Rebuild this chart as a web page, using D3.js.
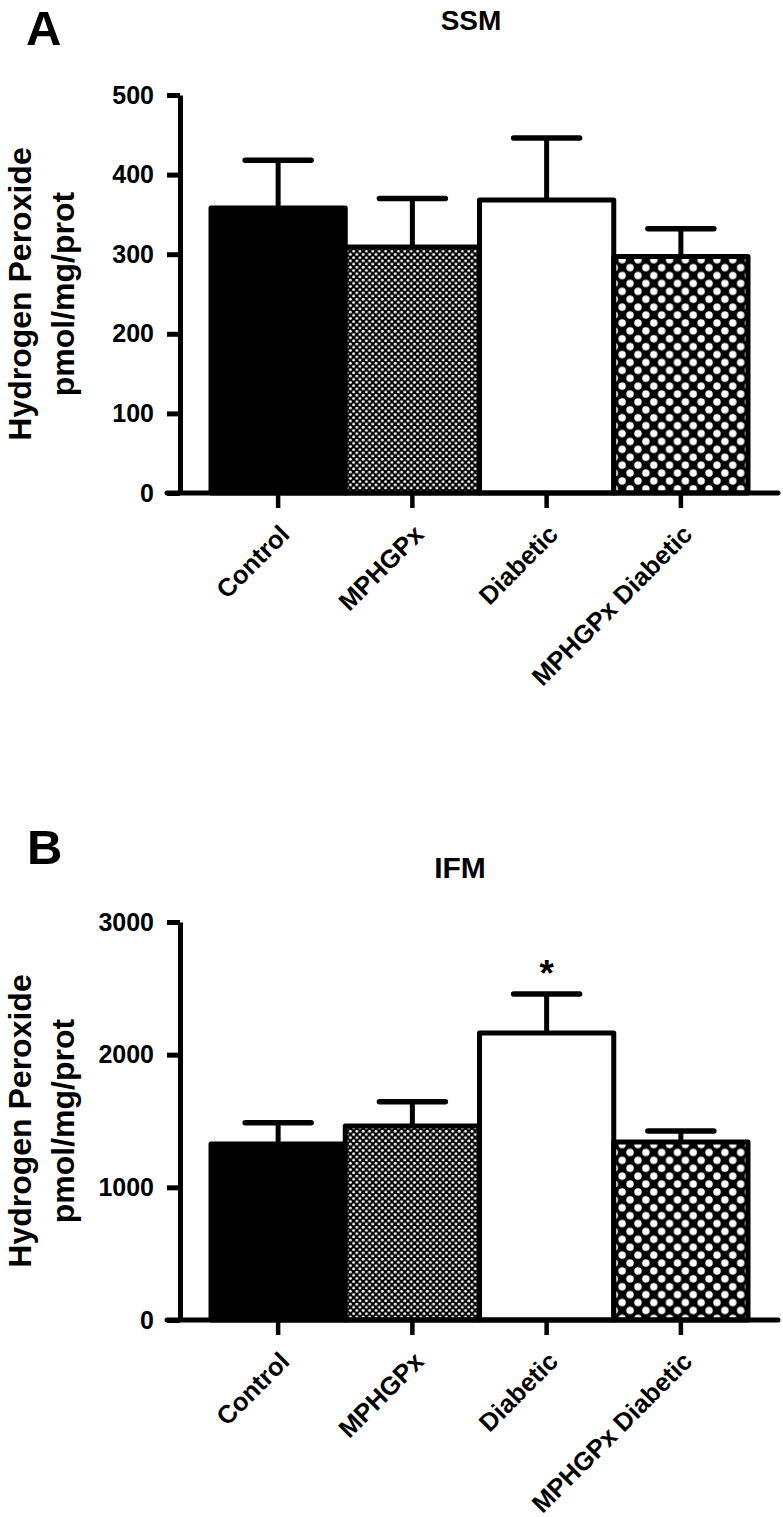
<!DOCTYPE html>
<html>
<head>
<meta charset="utf-8">
<script src="https://cdn.jsdelivr.net/npm/d3@7"></script>
<style>
  html, body { margin: 0; padding: 0; background: #fff; }
  svg { display: block; font-family: "Liberation Sans", Arial, sans-serif; }
</style>
</head>
<body>
<svg id="chart" width="783" height="1517"></svg>
<script>
// Data
const categories = ["Control", "MPHGPx", "Diabetic", "MPHGPx Diabetic"];
const ssmMeans = [358, 309, 368, 297];
const ssmErrors = [60, 61, 78, 35];
const ssmTicks = [0, 100, 200, 300, 400, 500];
const ifmMeans = [1326, 1462, 2163, 1341];
const ifmErrors = [161, 183, 294, 83];
const ifmTicks = [0, 1000, 2000, 3000];
const ifmStars = ["", "", "*", ""];

const svg = d3.select("#chart");
const defs = svg.append("defs");

// fine dotted pattern (MPHGPx)
const fine = defs.append("pattern").attr("id", "fine")
  .attr("patternUnits", "userSpaceOnUse").attr("width", 6.4).attr("height", 6.4);
fine.append("rect").attr("width", 6.4).attr("height", 6.4).attr("fill", "#000");
fine.append("circle").attr("cx", 1.6).attr("cy", 1.6).attr("r", 1.45).attr("fill", "#fff");
fine.append("circle").attr("cx", 4.8).attr("cy", 4.8).attr("r", 1.45).attr("fill", "#fff");

// coarse dotted pattern (MPHGPx Diabetic)
const coarse = defs.append("pattern").attr("id", "coarse")
  .attr("patternUnits", "userSpaceOnUse").attr("width", 15.8).attr("height", 15.8)
  .attr("x", 2).attr("y", 3);
coarse.append("rect").attr("width", 15.8).attr("height", 15.8).attr("fill", "#000");
coarse.append("circle").attr("cx", 3.95).attr("cy", 3.95).attr("r", 3.7).attr("fill", "#fff");
coarse.append("circle").attr("cx", 11.85).attr("cy", 11.85).attr("r", 3.7).attr("fill", "#fff");

const barFills = ["#000", "url(#fine)", "#fff", "url(#coarse)"];

const axisX = 180;      // y axis position
const barLeft = 211;
const barRight = 748;
const axisEnd = 778;

function drawPanel(opts) {
  const g = svg.append("g");
  const y = d3.scaleLinear().domain([0, d3.max(opts.ticks)]).range([opts.bottom, opts.top]);
  const x = d3.scaleBand().domain(categories).range([barLeft, barRight]).padding(0);

  const rows = categories.map((c, i) => ({
    name: c, mean: opts.means[i], err: opts.errors[i], fill: barFills[i], star: opts.stars ? opts.stars[i] : ""
  }));

  // error bars (upper half only, drawn behind bars)
  const eb = g.selectAll(".err").data(rows).enter().append("g").attr("class", "err");
  eb.append("line")
    .attr("x1", d => x(d.name) + x.bandwidth() / 2)
    .attr("x2", d => x(d.name) + x.bandwidth() / 2)
    .attr("y1", d => y(d.mean))
    .attr("y2", d => y(d.mean + d.err))
    .attr("stroke", "#000").attr("stroke-width", 5);
  eb.append("line")
    .attr("x1", d => x(d.name) + x.bandwidth() / 2 - 33)
    .attr("x2", d => x(d.name) + x.bandwidth() / 2 + 33)
    .attr("y1", d => y(d.mean + d.err))
    .attr("y2", d => y(d.mean + d.err))
    .attr("stroke", "#000").attr("stroke-width", 5.5).attr("stroke-linecap", "round");

  // bars
  g.selectAll(".bar").data(rows).enter().append("rect")
    .attr("class", "bar")
    .attr("x", d => x(d.name))
    .attr("width", x.bandwidth())
    .attr("y", d => y(d.mean))
    .attr("height", d => y(0) - y(d.mean))
    .attr("fill", d => d.fill)
    .attr("stroke", "#000")
    .attr("stroke-width", 5)
    .attr("stroke-linejoin", "round");

  // significance marks
  g.selectAll(".star").data(rows.filter(d => d.star)).enter().append("text")
    .attr("x", d => x(d.name) + x.bandwidth() / 2)
    .attr("y", d => y(d.mean + d.err) - 8)
    .attr("text-anchor", "middle")
    .attr("font-size", 37).attr("font-weight", "bold")
    .text(d => d.star);

  // x axis baseline
  g.append("line")
    .attr("x1", axisX - 13).attr("x2", axisEnd)
    .attr("y1", y(0)).attr("y2", y(0))
    .attr("stroke", "#000").attr("stroke-width", 5).attr("stroke-linecap", "round");

  // x axis ticks + labels
  const xAxis = g.append("g")
    .attr("transform", `translate(0,${y(0)})`)
    .call(d3.axisBottom(x).tickSize(15).tickSizeOuter(0));
  xAxis.select(".domain").remove();
  xAxis.selectAll(".tick line").attr("stroke", "#000").attr("stroke-width", 4.5);
  xAxis.selectAll(".tick text")
    .attr("x", 0).attr("y", 0).attr("dy", 0)
    .attr("transform", "translate(13,43) rotate(-45)")
    .attr("text-anchor", "end")
    .attr("font-size", 25.5).attr("font-weight", "bold")
    .attr("font-family", "Liberation Sans, Arial, sans-serif")
    .attr("fill", "#000");

  // y axis
  const yAxis = g.append("g")
    .attr("transform", `translate(${axisX},0)`)
    .call(d3.axisLeft(y).tickValues(opts.ticks).tickSize(13).tickSizeOuter(0).tickPadding(13).tickFormat(d3.format("d")));
  yAxis.select(".domain").attr("stroke", "#000").attr("stroke-width", 5);
  yAxis.selectAll(".tick line").attr("stroke", "#000").attr("stroke-width", 5);
  yAxis.selectAll(".tick text")
    .attr("font-size", 25).attr("font-weight", "bold")
    .attr("font-family", "Liberation Sans, Arial, sans-serif")
    .attr("fill", "#000");

  // y axis title (two lines)
  const mid = (opts.top + opts.bottom) / 2;
  const yt = g.append("text")
    .attr("transform", `translate(0,${mid}) rotate(-90)`)
    .attr("text-anchor", "middle")
    .attr("font-size", 32).attr("font-weight", "bold");
  yt.append("tspan").attr("x", 0).attr("y", 31).text("Hydrogen Peroxide");
  yt.append("tspan").attr("x", 0).attr("y", 74).text("pmol/mg/prot");

  // panel title and letter
  g.append("text")
    .attr("x", opts.titleX).attr("y", opts.titleY)
    .attr("text-anchor", "middle")
    .attr("font-size", opts.titleSize).attr("font-weight", "bold")
    .text(opts.title);
  g.append("text")
    .attr("x", opts.letterX).attr("y", opts.letterY)
    .attr("font-size", 49).attr("font-weight", "bold")
    .text(opts.letter);
}

drawPanel({
  means: ssmMeans, errors: ssmErrors, ticks: ssmTicks,
  top: 95, bottom: 493,
  title: "SSM", titleX: 471, titleY: 30, titleSize: 28,
  letter: "A", letterX: 26, letterY: 45
});

drawPanel({
  means: ifmMeans, errors: ifmErrors, ticks: ifmTicks, stars: ifmStars,
  top: 922, bottom: 1320,
  title: "IFM", titleX: 460, titleY: 878, titleSize: 30,
  letter: "B", letterX: 27, letterY: 864
});
</script>
</body>
</html>
